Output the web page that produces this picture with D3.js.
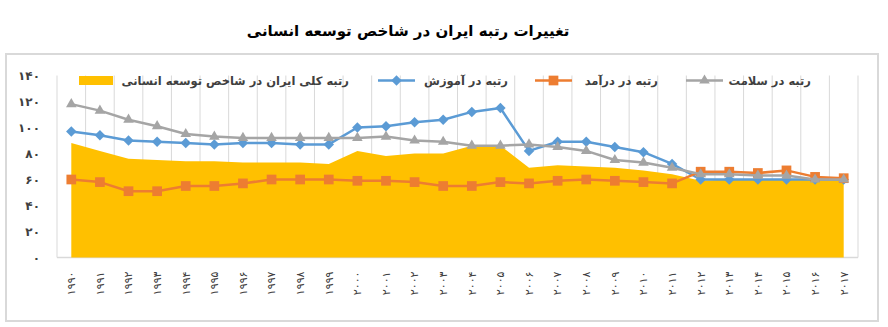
<!DOCTYPE html>
<html>
<head>
<meta charset="utf-8">
<script src="https://cdn.jsdelivr.net/npm/d3@7"></script>
<style>
  html, body { margin: 0; padding: 0; background: #fff; }
  svg { display: block; font-family: "DejaVu Sans", sans-serif; }
</style>
</head>
<body>
<svg id="chart" width="888" height="327"></svg>
<script>
// Iran's Human Development Index ranks, 1990–2017
const years = d3.range(1990, 2018);
const overallRank   = [88, 82, 76, 75, 74, 74, 73, 73, 73, 72, 82, 78, 80, 80, 86, 86, 69, 71, 70, 69, 67, 64, 59, 60, 60, 60, 60, 60];
const educationRank = [97, 94, 90, 89, 88, 87, 88, 88, 87, 87, 100, 101, 104, 106, 112, 115, 82, 89, 89, 85, 81, 72, 60, 60, 60, 60, 60, 60];
const incomeRank    = [60, 58, 51, 51, 55, 55, 57, 60, 60, 60, 59, 59, 58, 55, 55, 58, 57, 59, 60, 59, 58, 57, 66, 66, 65, 67, 62, 61];
const healthRank    = [118, 113, 106, 101, 95, 93, 92, 92, 92, 92, 92, 93, 90, 89, 86, 86, 87, 85, 82, 75, 73, 69, 64, 64, 63, 63, 60, 60];
const yTicks = [0, 20, 40, 60, 80, 100, 120, 140];

const titleText = "تغییرات رتبه ایران در شاخص توسعه انسانی";
const seriesNames = {
  overall: "رتبه کلی ایران در شاخص توسعه انسانی",
  education: "رتبه در آموزش",
  income: "رتبه در درآمد",
  health: "رتبه در سلامت"
};

const COLORS = { overall: "#FFC000", education: "#5B9BD5", income: "#ED7D31", health: "#A5A5A5" };
const GRID = "#D9D9D9";
const TEXT = "#404040";

// Persian digits for all numeric labels
const faDigits = "۰۱۲۳۴۵۶۷۸۹";
const toFa = v => String(v).replace(/\d/g, d => faDigits[+d]);

const svg = d3.select("#chart");

// outer frame
svg.append("rect")
  .attr("x", 6).attr("y", 54).attr("width", 872).attr("height", 267)
  .attr("fill", "none").attr("stroke", GRID).attr("stroke-width", 2);

// title
svg.append("text")
  .attr("x", 408).attr("y", 36)
  .attr("text-anchor", "middle")
  .attr("font-size", 15).attr("font-weight", "bold").attr("fill", "#000")
  .text(titleText);

const plot = { left: 57, right: 858, top: 75.5, bottom: 257.5 };

const x = d3.scaleBand().domain(years).range([plot.left, plot.right]).padding(0);
const cx = d => x(d) + x.bandwidth() / 2;
const y = d3.scaleLinear().domain([0, 140]).range([plot.bottom, plot.top]);

// vertical gridlines at category boundaries
const bounds = years.map(d => x(d)).concat([plot.right]);
svg.append("g").selectAll("line").data(bounds).join("line")
  .attr("x1", d => d).attr("x2", d => d)
  .attr("y1", plot.top).attr("y2", plot.bottom)
  .attr("stroke", GRID).attr("stroke-width", 1);

// y axis labels
const yAxis = svg.append("g")
  .attr("transform", `translate(${plot.left},0)`)
  .call(d3.axisLeft(y).tickValues(yTicks).tickSize(0).tickPadding(17).tickFormat(toFa));
yAxis.select(".domain").remove();
yAxis.selectAll("text")
  .attr("font-family", "DejaVu Sans").attr("font-size", 12).attr("font-weight", "bold").attr("fill", TEXT);

// x axis: rotated year labels
const xAxis = svg.append("g")
  .attr("transform", `translate(0,${plot.bottom})`)
  .call(d3.axisBottom(x).tickSize(0).tickFormat(toFa));
xAxis.select(".domain").remove();
xAxis.selectAll("text")
  .attr("font-family", "DejaVu Sans").attr("font-size", 11).attr("fill", TEXT)
  .attr("letter-spacing", "3.5px")
  .attr("text-anchor", "end")
  .attr("dy", "0.35em")
  .attr("transform", "translate(0,14) rotate(-90)")
  .attr("x", 0).attr("y", 0);

// baseline
svg.append("line")
  .attr("x1", plot.left).attr("x2", plot.right)
  .attr("y1", plot.bottom).attr("y2", plot.bottom)
  .attr("stroke", GRID).attr("stroke-width", 1.5);

// overall rank area
const area = d3.area()
  .x((d, i) => cx(years[i]))
  .y0(y(0))
  .y1(d => y(d));
svg.append("path").datum(overallRank)
  .attr("d", area).attr("fill", COLORS.overall);

// marker shapes
const diamond = d3.symbol().type(d3.symbolDiamond2).size(70);
const square = d3.symbol().type(d3.symbolSquare2).size(120);
const triangle = d3.symbol().type(d3.symbolTriangle2).size(80);

const line = d3.line().x((d, i) => cx(years[i])).y(d => y(d));

function drawSeries(values, color, symbol) {
  const g = svg.append("g");
  g.append("path").datum(values)
    .attr("d", line).attr("fill", "none")
    .attr("stroke", color).attr("stroke-width", 2.5).attr("stroke-linejoin", "round");
  g.selectAll("path.mark").data(values).join("path")
    .attr("class", "mark")
    .attr("transform", (d, i) => `translate(${cx(years[i])},${y(d)})`)
    .attr("d", symbol())
    .attr("fill", color);
}
drawSeries(educationRank, COLORS.education, diamond);
drawSeries(incomeRank, COLORS.income, square);
drawSeries(healthRank, COLORS.health, triangle);

// legend
const legendY = 80.5;
const legend = svg.append("g").attr("font-size", 11.5).attr("font-weight", "bold").attr("fill", TEXT);

legend.append("rect")
  .attr("x", 79).attr("y", 76).attr("width", 34).attr("height", 9)
  .attr("fill", COLORS.overall);
legend.append("text").attr("x", 349).attr("y", legendY).attr("dy", "0.35em")
  .attr("text-anchor", "end").text(seriesNames.overall);

const lineItems = [
  { key: "education", x0: 378, x1: 415, textEnd: 508, symbol: diamond },
  { key: "income", x0: 535, x1: 572, textEnd: 658, symbol: square },
  { key: "health", x0: 686, x1: 723, textEnd: 811, symbol: triangle }
];
lineItems.forEach(it => {
  legend.append("line")
    .attr("x1", it.x0).attr("x2", it.x1).attr("y1", legendY).attr("y2", legendY)
    .attr("stroke", COLORS[it.key]).attr("stroke-width", 2.5);
  legend.append("path")
    .attr("transform", `translate(${(it.x0 + it.x1) / 2},${legendY})`)
    .attr("d", it.symbol()).attr("fill", COLORS[it.key]);
  legend.append("text").attr("x", it.textEnd).attr("y", legendY).attr("dy", "0.35em")
    .attr("text-anchor", "end").text(seriesNames[it.key]);
});
</script>
</body>
</html>
